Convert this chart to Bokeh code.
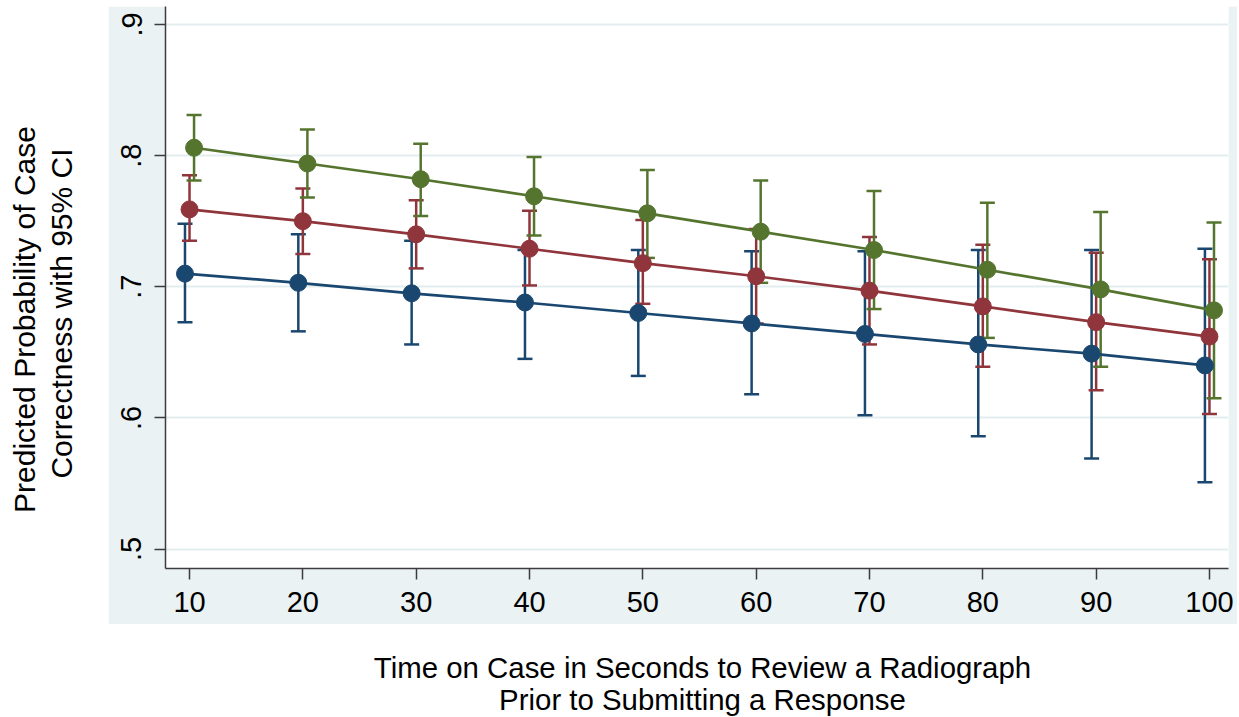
from math import pi

from bokeh.plotting import figure
from bokeh.models import Range1d, FixedTicker, ColumnDataSource, Label, Spacer
from bokeh.transform import dodge
from bokeh.layouts import row, column
from bokeh.embed import file_html
from bokeh.resources import INLINE

# ---------------- data ----------------
seconds = [10, 20, 30, 40, 50, 60, 70, 80, 90, 100]

blue_mean = [0.710, 0.703, 0.695, 0.688, 0.680, 0.672, 0.664, 0.656, 0.649, 0.640]
blue_lo = [0.673, 0.666, 0.656, 0.645, 0.632, 0.618, 0.602, 0.586, 0.569, 0.551]
blue_hi = [0.748, 0.740, 0.735, 0.728, 0.728, 0.727, 0.727, 0.728, 0.728, 0.729]

red_mean = [0.759, 0.750, 0.740, 0.729, 0.718, 0.708, 0.697, 0.685, 0.673, 0.662]
red_lo = [0.735, 0.725, 0.714, 0.701, 0.687, 0.672, 0.656, 0.639, 0.621, 0.603]
red_hi = [0.785, 0.775, 0.766, 0.758, 0.751, 0.744, 0.738, 0.732, 0.726, 0.721]

green_mean = [0.806, 0.794, 0.782, 0.769, 0.756, 0.742, 0.728, 0.713, 0.698, 0.682]
green_lo = [0.781, 0.768, 0.754, 0.739, 0.722, 0.703, 0.683, 0.661, 0.639, 0.615]
green_hi = [0.831, 0.820, 0.809, 0.799, 0.789, 0.781, 0.773, 0.764, 0.757, 0.749]

y_ticks = [0.5, 0.6, 0.7, 0.8, 0.9]
y_tick_labels = [".5", ".6", ".7", ".8", ".9"]

y_title_lines = ["Predicted Probability of Case", "Correctness with 95% CI"]
x_title_lines = ["Time on Case in Seconds to Review a Radiograph",
                 "Prior to Submitting a Response"]

# ---------------- style ----------------
FONT = "Liberation Sans"
PANEL = "#eaf2f3"
AXIS = "#3c3c3c"
series = [
    (blue_mean, blue_lo, blue_hi, "#1a476f", -0.4),
    (red_mean, red_lo, red_hi, "#90353b", 0.0),
    (green_mean, green_lo, green_hi, "#55752f", 0.4),
]


def no_align(fig):
    if "frame_align" in fig.properties():
        fig.frame_align = False


# ---------------- main plot ----------------
p = figure(width=1129, height=618, output_backend="svg", toolbar_location=None,
           x_range=Range1d(7.88, 101.68), y_range=Range1d(0.48513, 0.91373),
           min_border_left=57, min_border_right=9, min_border_top=0,
           min_border_bottom=56)
p.border_fill_color = PANEL
p.background_fill_color = "white"
p.outline_line_color = None
no_align(p)

sources = []
for mean, lo, hi, col, off in series:
    sources.append((ColumnDataSource(dict(x=seconds, mean=mean, lo=lo, hi=hi)), col, off))

# confidence intervals first
for src, col, off in sources:
    xd = dodge("x", off)
    p.segment(x0=xd, x1=xd, y0="lo", y1="hi", source=src, line_color=col, line_width=2.5)
    p.scatter(x=xd, y="lo", source=src, marker="dash", size=15, line_color=col, line_width=2.5)
    p.scatter(x=xd, y="hi", source=src, marker="dash", size=15, line_color=col, line_width=2.5)

# connected predictions
for src, col, off in sources:
    xd = dodge("x", off)
    p.line(x=xd, y="mean", source=src, line_color=col, line_width=2.7)
    p.scatter(x=xd, y="mean", source=src, size=17, fill_color=col, line_color=col)

p.xaxis.ticker = FixedTicker(ticks=seconds)
p.yaxis.ticker = FixedTicker(ticks=y_ticks)
p.yaxis.major_label_overrides = {t: l for t, l in zip(y_ticks, y_tick_labels)}
p.yaxis.major_label_orientation = "vertical"

for ax in (p.xaxis[0], p.yaxis[0]):
    ax.axis_line_color = AXIS
    ax.axis_line_width = 1.5
    ax.major_tick_line_color = AXIS
    ax.major_tick_line_width = 1.5
    ax.major_tick_out = 11
    ax.major_tick_in = 0
    ax.minor_tick_line_color = None
    ax.major_label_text_font = FONT
    ax.major_label_text_font_size = "29px"
    ax.major_label_text_color = "black"
p.xaxis.major_label_standoff = 12
p.yaxis.major_label_standoff = 13

p.xgrid.visible = False
p.ygrid.grid_line_color = "#e3edef"
p.ygrid.grid_line_width = 2

# ---------------- y title panel ----------------
yt = figure(width=108, height=717, output_backend="svg", toolbar_location=None,
            x_range=Range1d(0, 108), y_range=Range1d(0, 717),
            x_axis_location=None, y_axis_location=None, min_border=0)
yt.outline_line_color = None
yt.grid.visible = False
yt.border_fill_color = "white"
yt.background_fill_color = "white"
no_align(yt)
for txt, xs, ys in zip(y_title_lines, [24, 61], [398, 404]):
    yt.add_layout(Label(x=xs, y=ys, x_units="screen", y_units="screen", text=txt,
                        angle=pi / 2, text_align="center", text_baseline="middle",
                        text_font=FONT, text_font_size="30px", text_color="black"))

# ---------------- x title panel ----------------
xt = figure(width=1129, height=93, output_backend="svg", toolbar_location=None,
            x_range=Range1d(0, 1129), y_range=Range1d(0, 93),
            x_axis_location=None, y_axis_location=None, min_border=0)
xt.outline_line_color = None
xt.grid.visible = False
xt.border_fill_color = "white"
xt.background_fill_color = "white"
no_align(xt)
for txt, ys in zip(x_title_lines, [50, 18]):
    xt.add_layout(Label(x=594, y=ys, x_units="screen", y_units="screen", text=txt,
                        text_align="center", text_baseline="middle",
                        text_font=FONT, text_font_size="29.4px", text_color="black"))

layout = row(yt, column(Spacer(width=1129, height=6), p, xt))
open("out.html", "w").write(file_html(layout, INLINE))
